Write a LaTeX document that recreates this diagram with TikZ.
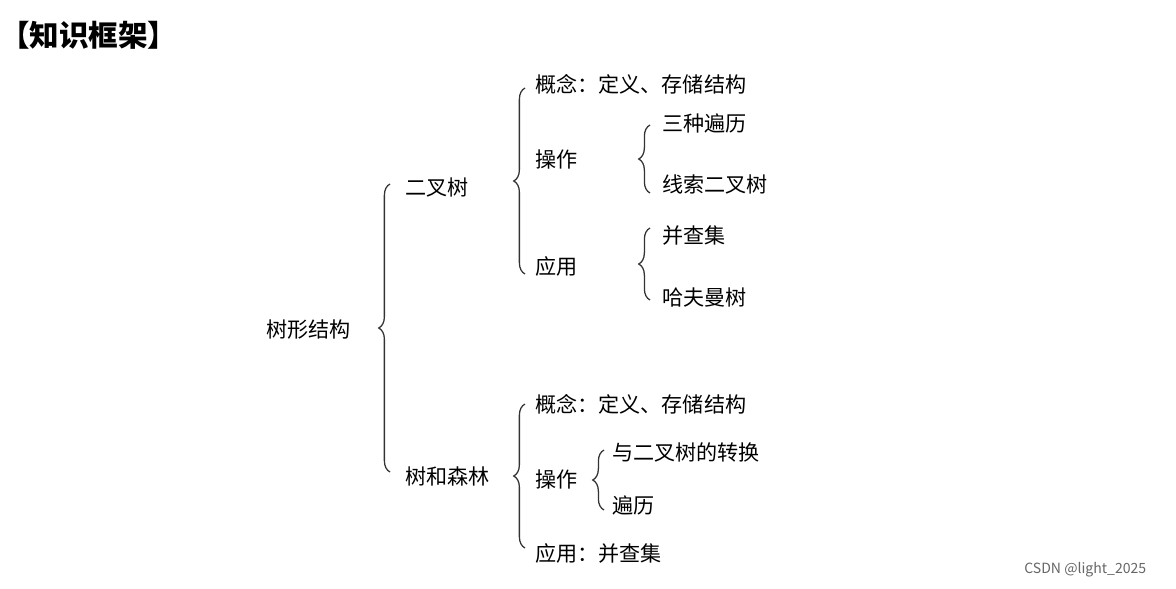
\documentclass[tikz,border=0pt]{standalone}
\usepackage{fontspec}
\setmainfont{Noto Sans CJK SC}
\usetikzlibrary{decorations.pathreplacing}
\tikzset{
  txt/.style={anchor=west, inner sep=0pt, font=\fontsize{15}{18}\selectfont},
  brc/.style={decorate, decoration={brace, amplitude=8pt}, line width=0.9pt, black!80}
}
\begin{document}
\begin{tikzpicture}[x=0.025cm, y=-0.025cm]
\useasboundingbox (0,0) rectangle (1176,588);

% title
\node[txt, font=\fontsize{21}{24}\selectfont\bfseries] (title) at (0,35) {【知识框架】};

% root
\node[txt] (root) at (266,330) {树形结构};
\draw[brc] (390,472) -- (390,184);

% binary tree
\node[txt] (bt) at (405,187) {二叉树};
\draw[brc] (525,274) -- (525,88);
\node[txt] (btc) at (535,84) {概念：定义、存储结构};
\node[txt] (bto) at (535,159) {操作};
\draw[brc] (650,193) -- (650,125);
\node[txt] (bto1) at (662,123) {三种遍历};
\node[txt] (bto2) at (662,184) {线索二叉树};
\node[txt] (bta) at (535,266) {应用};
\draw[brc] (650,300) -- (650,228);
\node[txt] (bta1) at (662,236) {并查集};
\node[txt] (bta2) at (662,298) {哈夫曼树};

% tree and forest
\node[txt] (tf) at (405,476) {树和森林};
\draw[brc] (525,548) -- (525,404);
\node[txt] (tfc) at (535,404) {概念：定义、存储结构};
\node[txt] (tfo) at (535,479) {操作};
\draw[brc] (604,510) -- (604,450);
\node[txt] (tfo1) at (612,452) {与二叉树的转换};
\node[txt] (tfo2) at (612,505) {遍历};
\node[txt] (tfa) at (535,553) {应用：并查集};

% watermark
\node[txt, font=\fontsize{10}{12}\selectfont, text=black!60] (wm) at (1024,570) {CSDN @light\_2025};
\end{tikzpicture}
\end{document}
